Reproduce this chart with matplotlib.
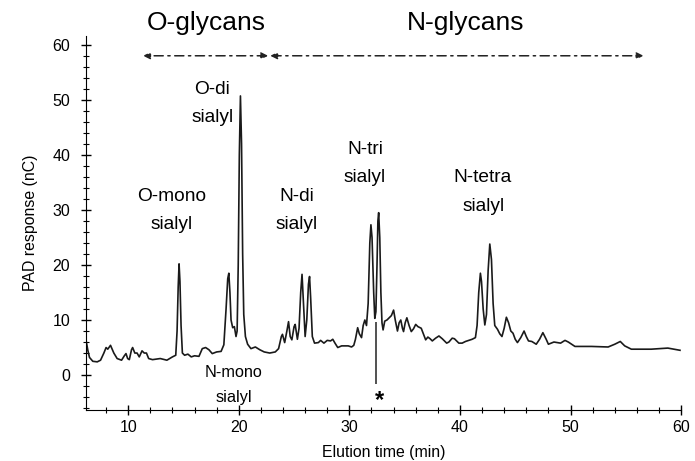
import numpy as np
import matplotlib.pyplot as plt
from matplotlib.ticker import MultipleLocator

plt.rcParams['font.family'] = ['Liberation Sans', 'DejaVu Sans']

# chromatogram trace (time in min, response in nC)
time_min = [6.2, 6.35, 6.5, 6.8, 7.2, 7.5, 7.8, 8.0, 8.15, 8.4, 8.7, 9.0, 9.4, 9.65, 9.8,
            9.95, 10.1, 10.3, 10.4, 10.6, 10.8, 11.0, 11.25, 11.45, 11.65, 11.85, 12.2,
            12.9, 13.5, 14.0, 14.3, 14.42, 14.52, 14.6, 14.68, 14.78, 14.9, 15.1, 15.4,
            15.7, 16.0, 16.4, 16.7, 17.0, 17.3, 17.6, 18.0, 18.4, 18.65, 18.85, 19.0,
            19.1, 19.2, 19.3, 19.45, 19.6, 19.75, 19.85, 19.95, 20.05, 20.15, 20.25,
            20.35, 20.45, 20.6, 20.8, 21.1, 21.5, 21.9, 22.3, 22.8, 23.3, 23.6, 23.85,
            23.95, 24.15, 24.35, 24.5, 24.65, 24.8, 25.0, 25.1, 25.3, 25.45, 25.6, 25.72,
            25.85, 26.0, 26.15, 26.3, 26.4, 26.5, 26.65, 26.85, 27.2, 27.4, 27.7, 28.0,
            28.3, 28.5, 28.7, 28.95, 29.3, 29.9, 30.2, 30.4, 30.55, 30.75, 30.9, 31.1,
            31.25, 31.4, 31.55, 31.7, 31.85, 31.95, 32.05, 32.2, 32.3, 32.4, 32.5, 32.58,
            32.65, 32.75, 32.85, 32.95, 33.05, 33.2, 33.4, 33.6, 33.8, 34.0, 34.15, 34.35,
            34.5, 34.65, 34.8, 34.9, 35.05, 35.2, 35.4, 35.6, 35.8, 36.0, 36.2, 36.4,
            36.5, 36.9, 37.1, 37.3, 37.5, 37.8, 38.1, 38.4, 38.8, 39.0, 39.3, 39.5,
            39.9, 40.2, 40.5, 40.8, 41.1, 41.4, 41.55, 41.7, 41.85, 41.95, 42.1, 42.25,
            42.4, 42.55, 42.7, 42.85, 43.0, 43.15, 43.4, 43.6, 43.8, 44.0, 44.2, 44.4,
            44.6, 44.8, 45.0, 45.2, 45.5, 45.8, 46.0, 46.2, 46.5, 46.9, 47.2, 47.5,
            47.8, 48.0, 48.5, 49.1, 49.5, 49.8, 50.4, 51.9, 53.4, 54.0, 54.5, 54.9,
            55.5, 57.3, 58.8, 59.9]
pad_nc = [6.2, 4.5, 3.2, 2.5, 2.4, 2.7, 4.0, 5.0, 4.7, 5.4, 4.0, 3.0, 2.7, 3.5, 3.9,
          3.0, 2.8, 4.6, 5.0, 4.0, 4.0, 3.3, 4.4, 4.0, 4.0, 3.0, 2.8,
          3.0, 2.7, 3.3, 3.6, 8.0, 16.0, 20.2, 17.0, 9.0, 4.0, 3.6, 3.8,
          3.3, 3.5, 3.4, 4.8, 5.0, 4.6, 3.9, 4.2, 4.3, 5.5, 12.0, 17.5,
          18.5, 15.0, 10.0, 8.6, 8.8, 7.0, 8.0, 20.0, 40.0, 50.7, 42.0,
          22.0, 11.0, 7.0, 5.6, 4.8, 5.1, 4.6, 4.2, 4.0, 4.2, 4.8, 7.0,
          7.4, 5.9, 8.0, 9.7, 7.0, 6.4, 8.8, 9.2, 6.5, 8.5, 15.0, 18.3,
          13.0, 7.0, 10.0, 16.5, 17.9, 14.0, 7.0, 5.8, 5.9, 6.3, 5.8, 6.3,
          6.2, 6.5, 5.8, 5.0, 5.3, 5.3, 5.1, 5.4, 6.5, 8.6, 7.5, 6.8,
          9.0, 10.0, 9.0, 13.0, 24.0, 27.3, 25.0, 15.0, 10.3, 11.5, 20.0, 28.0,
          29.5, 25.0, 15.0, 9.5, 8.2, 9.8, 10.0, 10.4, 10.8, 11.8, 10.0, 8.0,
          9.5, 10.0, 8.5, 7.9, 9.5, 10.4, 9.0, 7.9, 8.4, 9.2, 8.8, 8.6,
          8.5, 6.4, 6.9, 6.6, 6.2, 6.7, 7.1, 6.6, 5.8, 6.0, 6.7, 6.6,
          5.8, 5.8, 6.1, 6.3, 6.5, 6.8, 9.0, 15.0, 18.5, 17.0, 12.0, 9.1,
          11.0, 19.0, 23.8, 21.0, 13.0, 9.0, 8.3, 7.5, 7.0, 8.5, 10.5, 9.5,
          8.0, 7.6, 6.5, 5.9, 6.8, 8.0, 7.0, 6.2, 6.1, 5.6, 6.5, 7.7,
          6.5, 5.6, 6.0, 5.8, 6.3, 6.0, 5.2, 5.2, 5.1, 5.6, 6.1, 5.3,
          4.7, 4.7, 4.9, 4.5]

# the downward spike marked with an asterisk
spike_time = 32.45
spike_low = -1.6
spike_high = 9.7

fig = plt.figure(figsize=(6.95, 4.61), dpi=100)
ax = fig.add_axes([0.124, 0.11, 0.856, 0.812])
ax.plot(time_min, pad_nc, color='#1a1a1a', lw=1.2, solid_joinstyle='round')
ax.vlines(spike_time, spike_low, spike_high, color='#333333', lw=1.2)

ax.set_xlim(6.2, 60)
ax.set_ylim(-6.4, 61.6)
ax.xaxis.set_major_locator(MultipleLocator(10))
ax.xaxis.set_minor_locator(MultipleLocator(2))
ax.yaxis.set_major_locator(MultipleLocator(10))
ax.yaxis.set_minor_locator(MultipleLocator(2))
ax.tick_params(which='major', direction='inout', length=7, width=1, labelsize=11.5)
ax.tick_params(which='minor', direction='inout', length=5, width=0.8)
ax.tick_params(axis='y', which='major', pad=8)
for s in ['top', 'right']:
    ax.spines[s].set_visible(False)
ax.set_xlabel('Elution time (min)', fontsize=11.4, labelpad=7)
ax.set_ylabel('PAD response (nC)', fontsize=11.4, labelpad=10)

# region arrows
arr = dict(arrowstyle='<|-|>', color='#222222', lw=1.1, linestyle=(0, (6, 3, 1.5, 3)),
           mutation_scale=10, shrinkA=0, shrinkB=0)
ax.annotate('', xy=(11.35, 58), xytext=(22.65, 58), arrowprops=arr, annotation_clip=False)
ax.annotate('', xy=(56.6, 58), xytext=(22.85, 58), arrowprops=arr, annotation_clip=False)
ax.text(17.1, 64.0, 'O-glycans', fontsize=19, ha='center', va='center', clip_on=False)
ax.text(40.5, 64.0, 'N-glycans', fontsize=19, ha='center', va='center', clip_on=False)

labels = [('O-di', 17.6, 51.8), ('sialyl', 17.6, 46.7),
          ('O-mono', 13.9, 32.4), ('sialyl', 13.9, 27.3),
          ('N-di', 25.2, 32.4), ('sialyl', 25.2, 27.3),
          ('N-tri', 31.4, 40.9), ('sialyl', 31.4, 35.8),
          ('N-tetra', 42.0, 35.8), ('sialyl', 42.1, 30.7)]
for t, x, y in labels:
    ax.text(x, y, t, fontsize=13.8, ha='center', va='center')
ax.text(19.5, 0.5, 'N-mono', fontsize=11.7, ha='center', va='center')
ax.text(19.6, -4.0, 'sialyl', fontsize=11.7, ha='center', va='center')
ax.text(32.7, -4.6, '*', fontsize=17, fontweight='bold', ha='center', va='center')

fig.savefig('out.png', dpi=100)
